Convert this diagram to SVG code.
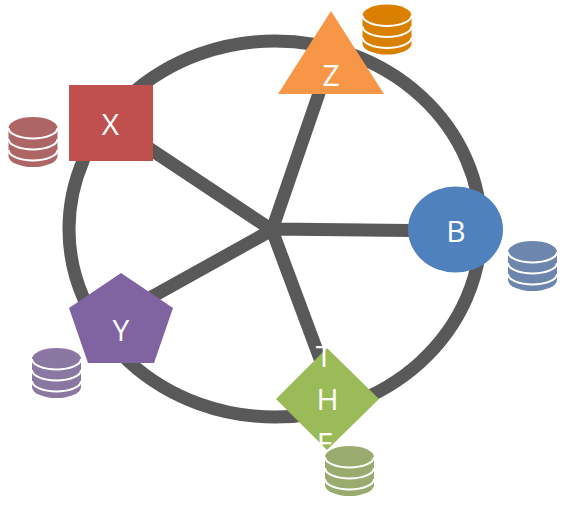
<svg xmlns="http://www.w3.org/2000/svg" width="567" height="505" viewBox="0 0 567 505">
<style>
.c{fill:none;stroke:#595959;stroke-width:13}
.l{fill:#fff;font-family:"Open Sans","Noto Sans",sans-serif;font-size:30px;text-anchor:middle}
.a{fill:none;stroke:#fff;stroke-width:2}
</style>
<defs>
<g id="db">
<path d="M0 11A24.5 11 0 0 1 49 11V39A24.5 11 0 0 1 0 39Z"/>
<path class="a" d="M0 11A24.5 10.500 0 0 0 49 11M0 22A24.5 10.500 0 0 0 49 22M0 33A24.500 10.500 0 0 0 49 33"/>
</g>
</defs>
<g id="connectors">
<ellipse class="c" cx="275" cy="229" rx="206" ry="188"/>
<path class="c" d="M111 123L272 230M328 67L272 230M456 231L272 229M121 314L272 230M335 399L272 230"/>
</g>
<g id="node-x"><rect x="69" y="85" width="84" height="76" fill="#c0504d"/><text class="l" x="110.500" y="135">X</text></g>
<g id="node-z"><polygon points="331,11 384,94 278,94" fill="#f79646"/><text class="l" x="331" y="86">Z</text></g>
<g id="node-b"><ellipse cx="455.500" cy="229.500" rx="47.500" ry="43" fill="#4f81bd"/><text class="l" x="456" y="241.500">B</text></g>
<g id="node-y"><polygon points="121,273 173,308 154,363 88,363 69,308" fill="#8064a2"/><text class="l" x="121" y="341">Y</text></g>
<g id="node-the"><polygon points="327,348 379,399 327,450 276,399" fill="#9bbb59"/>
<text class="l" x="324" y="367">T</text><text class="l" x="327.500" y="410">H</text><text class="l" x="325" y="454">E</text></g>
<g id="db-z"><use href="#db" x="362.500" y="4.500" fill="#d98000"/></g>
<g id="db-x"><use href="#db" x="8.500" y="117" fill="#ae6565"/></g>
<g id="db-b"><use href="#db" x="508" y="241" fill="#6d86ad"/></g>
<g id="db-y"><use href="#db" x="32" y="348" fill="#8a78a2"/></g>
<g id="db-the"><use href="#db" x="325" y="446" fill="#9aab6f"/></g>
</svg>
